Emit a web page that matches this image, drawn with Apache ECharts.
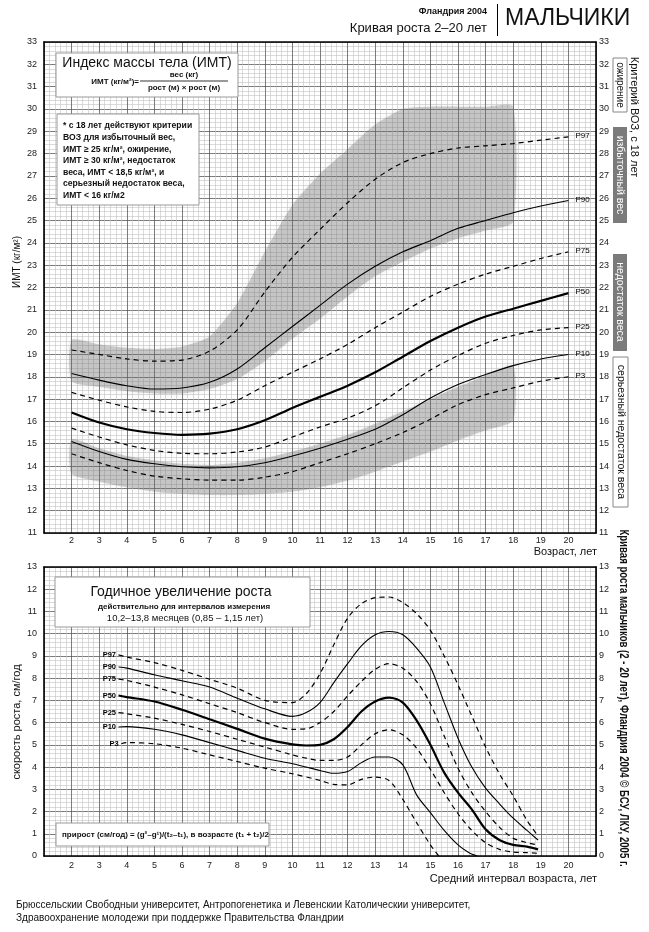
<!DOCTYPE html>
<html><head><meta charset="utf-8">
<script src="https://cdn.jsdelivr.net/npm/echarts/dist/echarts.min.js"></script>
<style>html,body{margin:0;padding:0;background:#fff}#c{width:649px;height:932px}</style>
</head><body><div id="c"></div>
<script>
// ---------- BMI (top chart) ----------
const bmiAges = [2,3,4,5,6,7,8,9,10,11,12,13,14,15,16,17,18,19,20];
const bmiP97 = [19.2,19.0,18.8,18.7,18.75,19.15,20.1,21.8,23.35,24.6,25.8,26.85,27.6,28.0,28.25,28.35,28.45,28.6,28.75];
const bmiP90 = [18.15,17.85,17.6,17.45,17.5,17.75,18.35,19.3,20.25,21.2,22.15,22.95,23.6,24.1,24.65,25.0,25.35,25.65,25.9];
const bmiP75 = [17.3,16.95,16.65,16.45,16.4,16.55,16.95,17.6,18.2,18.8,19.45,20.2,20.9,21.6,22.15,22.6,22.95,23.3,23.6];
const bmiP50 = [16.4,15.95,15.65,15.48,15.4,15.45,15.65,16.05,16.6,17.1,17.6,18.2,18.9,19.6,20.2,20.7,21.05,21.4,21.75];
const bmiP25 = [15.7,15.3,14.95,14.7,14.57,14.55,14.63,14.85,15.3,15.75,16.15,16.7,17.5,18.3,18.95,19.5,19.85,20.1,20.2];
const bmiP10 = [15.1,14.65,14.3,14.1,13.97,13.92,13.97,14.15,14.45,14.8,15.2,15.65,16.3,17.05,17.65,18.1,18.5,18.8,19.0];
const bmiP3  = [14.55,14.15,13.8,13.55,13.43,13.37,13.37,13.5,13.75,14.15,14.55,15.0,15.5,16.1,16.75,17.2,17.5,17.8,18.0];
// grey bands (ages 2..18)
const bandAges = [2,3,4,5,6,7,8,9,10,11,12,13,14,15,16,17,18];
const bandHighTop = [19.65,19.45,19.3,19.25,19.35,19.8,21.3,23.6,25.7,27.1,28.2,29.3,30.0,30.1,30.1,30.1,30.1];
const bandHighBottom = [17.8,17.55,17.35,17.25,17.25,17.45,17.9,18.7,19.7,20.6,21.6,22.5,23.15,23.75,24.2,24.55,24.95];
const bandLowTop = [15.2,14.8,14.45,14.25,14.1,14.05,14.15,14.35,14.65,15.0,15.4,15.9,16.45,17.0,17.55,18.05,18.5];
const bandLowBottom = [13.65,13.3,13.05,12.85,12.75,12.7,12.7,12.75,12.85,13.05,13.35,13.75,14.2,14.65,15.15,15.6,16.05];

// ---------- Height velocity (bottom chart) ----------
const velAges = [3.7,4,5,6,7,8,9,10,10.5,11,11.5,12,12.5,13,13.5,14,14.5,15,15.5,16,16.5,17,17.5,18,18.5,18.9];
const velP97 = [9.05,8.95,8.7,8.35,7.95,7.55,7.0,6.9,7.3,8.2,9.5,10.7,11.35,11.62,11.65,11.4,10.9,10.15,9.0,7.7,6.3,4.9,3.7,2.7,1.6,0.9];
const velP90 = [8.5,8.45,8.15,7.88,7.6,7.1,6.62,6.28,6.45,6.9,7.8,8.65,9.45,9.95,10.1,9.95,9.35,8.5,6.9,5.3,4.0,3.05,2.35,1.7,1.15,0.72];
const velP75 = [7.95,7.9,7.6,7.25,6.85,6.45,6.0,5.7,5.72,6.0,6.5,7.2,7.85,8.4,8.65,8.45,7.85,6.85,5.4,3.95,2.85,2.0,1.3,0.8,0.6,0.5];
const velP50 = [7.22,7.15,6.95,6.58,6.15,5.72,5.28,5.02,4.97,5.0,5.25,5.8,6.5,6.95,7.12,6.9,6.1,5.0,3.75,2.85,2.1,1.2,0.72,0.5,0.42,0.3];
const velP25 = [6.45,6.4,6.2,5.92,5.6,5.25,4.9,4.55,4.4,4.3,4.3,4.45,5.0,5.5,5.68,5.45,4.85,3.9,2.85,1.9,1.15,0.6,0.3,0.18,0.15,0.12];
const velAgesP10 = [3.7,4,5,6,7,8,9,10,10.5,11,11.5,12,12.5,13,13.5,14,14.5,15,15.5,16,16.4,16.7];
const velP10 = [5.8,5.82,5.7,5.45,5.1,4.75,4.4,4.15,4.0,3.85,3.72,3.8,4.2,4.45,4.45,4.1,2.75,1.95,1.15,0.5,0.15,0.0];
const velAgesP3 = [3.8,4,5,6,7,8,9,10,11,11.5,12,12.5,13,13.5,14,14.5,15,15.3];
const velP3 = [5.05,5.1,5.05,4.85,4.55,4.25,3.95,3.7,3.4,3.22,3.2,3.45,3.55,3.4,2.55,1.5,0.5,0.0];

const xTickLabels = [2,3,4,5,6,7,8,9,10,11,12,13,14,15,16,17,18,19,20];

const NARROW = '"Liberation Sans Narrow","Liberation Sans",Arial,sans-serif';
const SANS = '"Liberation Sans",Arial,sans-serif';

const pair = (xs, ys) => xs.map((x, i) => [x, ys[i]]);

function xAxes(gridIndex, margin) {
  return [{
    type: 'value', gridIndex, min: 1, max: 21, interval: 1, position: 'bottom',
    axisLine: {show: true, onZero: false, lineStyle: {color: '#000', width: 1.6}},
    axisTick: {show: false},
    axisLabel: {formatter: v => xTickLabels.includes(v) ? String(v) : '', fontSize: 9, fontFamily: NARROW, color: '#222', margin},
    splitLine: {show: true, lineStyle: {color: '#5a5a5a', width: 0.8}},
    minorTick: {show: false, splitNumber: 5},
    minorSplitLine: {show: true, lineStyle: {color: '#c2c2c2', width: 0.6}}
  }, {
    type: 'value', gridIndex, min: 1, max: 21, interval: 1, position: 'top',
    axisLine: {show: true, onZero: false, lineStyle: {color: '#000', width: 1.6}},
    axisTick: {show: false}, axisLabel: {show: false}, splitLine: {show: false}
  }];
}
function yAxes(gridIndex, min, max) {
  const base = {
    type: 'value', gridIndex, min, max, interval: 1,
    axisLine: {show: true, onZero: false, lineStyle: {color: '#000', width: 1.6}},
    axisTick: {show: false},
    axisLabel: {fontSize: 9, fontFamily: NARROW, color: '#222'}
  };
  return [
    Object.assign({}, base, {position: 'left', axisLabel: Object.assign({}, base.axisLabel, {margin: 7}),
      splitLine: {show: true, lineStyle: {color: '#5a5a5a', width: 0.8}},
      minorTick: {show: false, splitNumber: 5},
      minorSplitLine: {show: true, lineStyle: {color: '#c2c2c2', width: 0.6}}}),
    Object.assign({}, base, {position: 'right', axisLabel: Object.assign({}, base.axisLabel, {margin: 3}), splitLine: {show: false}})
  ];
}

function curve(name, xs, ys, kind, xIdx, yIdx, labelMode) {
  const widths = {thick: 2.2, solid: 1.1, dashed: 1.2};
  const s = {
    type: 'line', name, xAxisIndex: xIdx, yAxisIndex: yIdx, smooth: 0.3, symbol: 'none',
    lineStyle: {color: '#000', width: widths[kind], type: kind === 'dashed' ? [5, 4] : 'solid'},
    z: 5, silent: true
  };
  let data = pair(xs, ys);
  if (labelMode === 'end') {
    s.endLabel = {show: true, formatter: name, fontSize: 8, fontFamily: NARROW, color: '#000', distance: 7, offset: [0, -1]};
  } else if (labelMode === 'start') {
    s.symbol = 'circle'; s.symbolSize = 1; s.showSymbol = true; s.showAllSymbol = true;
    s.itemStyle = {color: 'rgba(0,0,0,0)', borderWidth: 0};
    s.label = {show: false};
    data = data.map((p, i) => i === 0 ? {value: p, label: {show: true, position: 'left', distance: 2, formatter: name, fontSize: 7.5, fontWeight: 'bold', fontFamily: NARROW, color: '#000'}} : p);
  }
  s.data = data;
  return s;
}
function band(lower, upper) {
  return {
    type: 'custom', coordinateSystem: 'cartesian2d', xAxisIndex: 0, yAxisIndex: 0, silent: true, z: 1,
    clip: true,
    data: [[bandAges[0], upper[0]]],
    renderItem: (params, api) => {
      const top = bandAges.map((a, i) => api.coord([a, upper[i]]));
      const bot = bandAges.map((a, i) => api.coord([a, lower[i]])).reverse();
      return {
        type: 'polygon',
        shape: {points: top.concat(bot), smooth: 0.2},
        style: {fill: 'rgba(110,110,110,0.32)', shadowBlur: 7, shadowColor: 'rgba(110,110,110,0.35)'}
      };
    }
  };
}

const txt = (x, y, text, font, opts = {}) => Object.assign({
  type: 'text', x, y, z: 100,
  style: Object.assign({text, font, fill: '#111', textAlign: opts.align || 'left', textVerticalAlign: 'middle', align: opts.align || 'left', verticalAlign: 'middle'}, opts.style || {})
}, opts.rotation !== undefined ? {rotation: opts.rotation} : {}, opts.scaleX !== undefined ? {scaleX: opts.scaleX} : {});
const box = (x, y, w, h, fill, stroke) => ({type: 'rect', z: 99, shape: {x, y, width: w, height: h}, style: {fill, stroke: stroke || null, lineWidth: 1}});

const noteLines = [
  '* с 18 лет действуют критерии',
  'ВОЗ для избыточный вес,',
  'ИМТ ≥ 25 кг/м², ожирение,',
  'ИМТ ≥ 30 кг/м², недостаток',
  'веса, ИМТ < 18,5 кг/м², и',
  'серьезный недостаток веса,',
  'ИМТ < 16 кг/м2'
];

const graphics = [
  txt(487, 12, 'Фландрия 2004', 'bold 9px ' + SANS, {align: 'right'}),
  txt(487, 28, 'Кривая роста 2–20 лет', '13px ' + SANS, {align: 'right'}),
  {type: 'line', z: 100, shape: {x1: 497.5, y1: 4, x2: 497.5, y2: 36}, style: {stroke: '#000', lineWidth: 1}},
  txt(505, 19, 'МАЛЬЧИКИ', '23px ' + SANS),
  // top title
  box(56, 53, 182, 44, '#fff', '#999'),
  txt(147, 63, 'Индекс массы тела (ИМТ)', '14px ' + SANS, {align: 'center'}),
  txt(139, 82, 'ИМТ (кг/м²)=', 'bold 8px ' + SANS, {align: 'right'}),
  txt(184, 75, 'вес (кг)', 'bold 8px ' + SANS, {align: 'center'}),
  {type: 'line', z: 100, shape: {x1: 140, y1: 81, x2: 228, y2: 81}, style: {stroke: '#000', lineWidth: 0.8}},
  txt(184, 88, 'рост (м) × рост (м)', 'bold 8px ' + SANS, {align: 'center'}),
  // note
  box(57, 114, 142, 91, '#fff', '#999'),
  ...noteLines.map((l, i) => txt(63, 126 + i * 11.6, l, 'bold 8.6px ' + SANS)),
  // right side
  txt(634, 117, 'Критерий ВОЗ, с 18 лет', '11px ' + SANS, {align: 'center', rotation: -Math.PI / 2}),
  box(613, 58, 14, 54, '#fff', '#888'),
  txt(620, 85, 'ожирение', '10px ' + SANS, {align: 'center', rotation: -Math.PI / 2}),
  box(613, 127, 14, 96, '#7b7b7b'),
  txt(620, 175, 'избыточный вес', '10.5px ' + SANS, {align: 'center', rotation: -Math.PI / 2, style: {fill: '#fff'}}),
  box(613, 254, 14, 97, '#7b7b7b'),
  txt(620, 302, 'недостаток веса', '10.5px ' + SANS, {align: 'center', rotation: -Math.PI / 2, style: {fill: '#fff'}}),
  box(613, 357, 15, 150, '#fff', '#888'),
  txt(620.5, 432, 'серьезный недостаток веса', '10.5px ' + SANS, {align: 'center', rotation: -Math.PI / 2}),
  txt(623, 698, 'Кривая роста мальчиков (2 - 20 лет), Фландрия 2004 © БСУ, ЛКУ, 2005 г.', 'bold 12px ' + SANS, {align: 'center', rotation: -Math.PI / 2, scaleX: 0.8}),
  // axis names
  txt(17, 262, 'ИМТ (кг/м²)', '10px ' + SANS, {align: 'center', rotation: Math.PI / 2}),
  txt(17, 722, 'скорость роста, см/год', '11px ' + SANS, {align: 'center', rotation: Math.PI / 2}),
  txt(597, 552, 'Возраст, лет', '11px ' + SANS, {align: 'right'}),
  txt(597, 879, 'Средний интервал возраста, лет', '11px ' + SANS, {align: 'right'}),
  // bottom title
  box(55, 577, 255, 50, '#fff', '#999'),
  txt(181, 592, 'Годичное увеличение роста', '14px ' + SANS, {align: 'center'}),
  txt(184, 607, 'действительно для интервалов измерения', 'bold 8px ' + SANS, {align: 'center'}),
  txt(185, 618, '10,2–13,8 месяцев (0,85 – 1,15 лет)', '9.5px ' + SANS, {align: 'center'}),
  // formula box
  box(56, 823, 213, 23, '#fff', '#999'),
  txt(62, 834.5, 'прирост (см/год) = (g²–g¹)/(t₂–t₁), в возрасте (t₁ + t₂)/2', 'bold 8px ' + NARROW),
  // footer
  txt(16, 905, 'Брюссельскии Свободныи университет, Антропогенетика и Левенскии Католическии университет,', '10px ' + SANS),
  txt(16, 918, 'Здравоохранение молодежи при поддержке Правительства Фландрии', '10px ' + SANS)
];

const option = {
  animation: false,
  backgroundColor: '#fff',
  grid: [
    {left: 44, right: 53, top: 42, height: 491},
    {left: 44, right: 53, top: 567, height: 289}
  ],
  xAxis: [...xAxes(0, 3), ...xAxes(1, 5)],
  yAxis: [...yAxes(0, 11, 33), ...yAxes(1, 0, 13)],
  series: [
    band(bandHighBottom, bandHighTop),
    band(bandLowBottom, bandLowTop),
    curve('P97', bmiAges, bmiP97, 'dashed', 0, 0, 'end'),
    curve('P90', bmiAges, bmiP90, 'solid', 0, 0, 'end'),
    curve('P75', bmiAges, bmiP75, 'dashed', 0, 0, 'end'),
    curve('P50', bmiAges, bmiP50, 'thick', 0, 0, 'end'),
    curve('P25', bmiAges, bmiP25, 'dashed', 0, 0, 'end'),
    curve('P10', bmiAges, bmiP10, 'solid', 0, 0, 'end'),
    curve('P3', bmiAges, bmiP3, 'dashed', 0, 0, 'end'),
    curve('P97', velAges, velP97, 'dashed', 2, 2, 'start'),
    curve('P90', velAges, velP90, 'solid', 2, 2, 'start'),
    curve('P75', velAges, velP75, 'dashed', 2, 2, 'start'),
    curve('P50', velAges, velP50, 'thick', 2, 2, 'start'),
    curve('P25', velAges, velP25, 'dashed', 2, 2, 'start'),
    curve('P10', velAgesP10, velP10, 'solid', 2, 2, 'start'),
    curve('P3', velAgesP3, velP3, 'dashed', 2, 2, 'start')
  ],
  graphic: {elements: graphics}
};
const chart = echarts.init(document.getElementById('c'), null, {renderer: 'canvas'});
chart.setOption(option);
</script>
</body></html>
